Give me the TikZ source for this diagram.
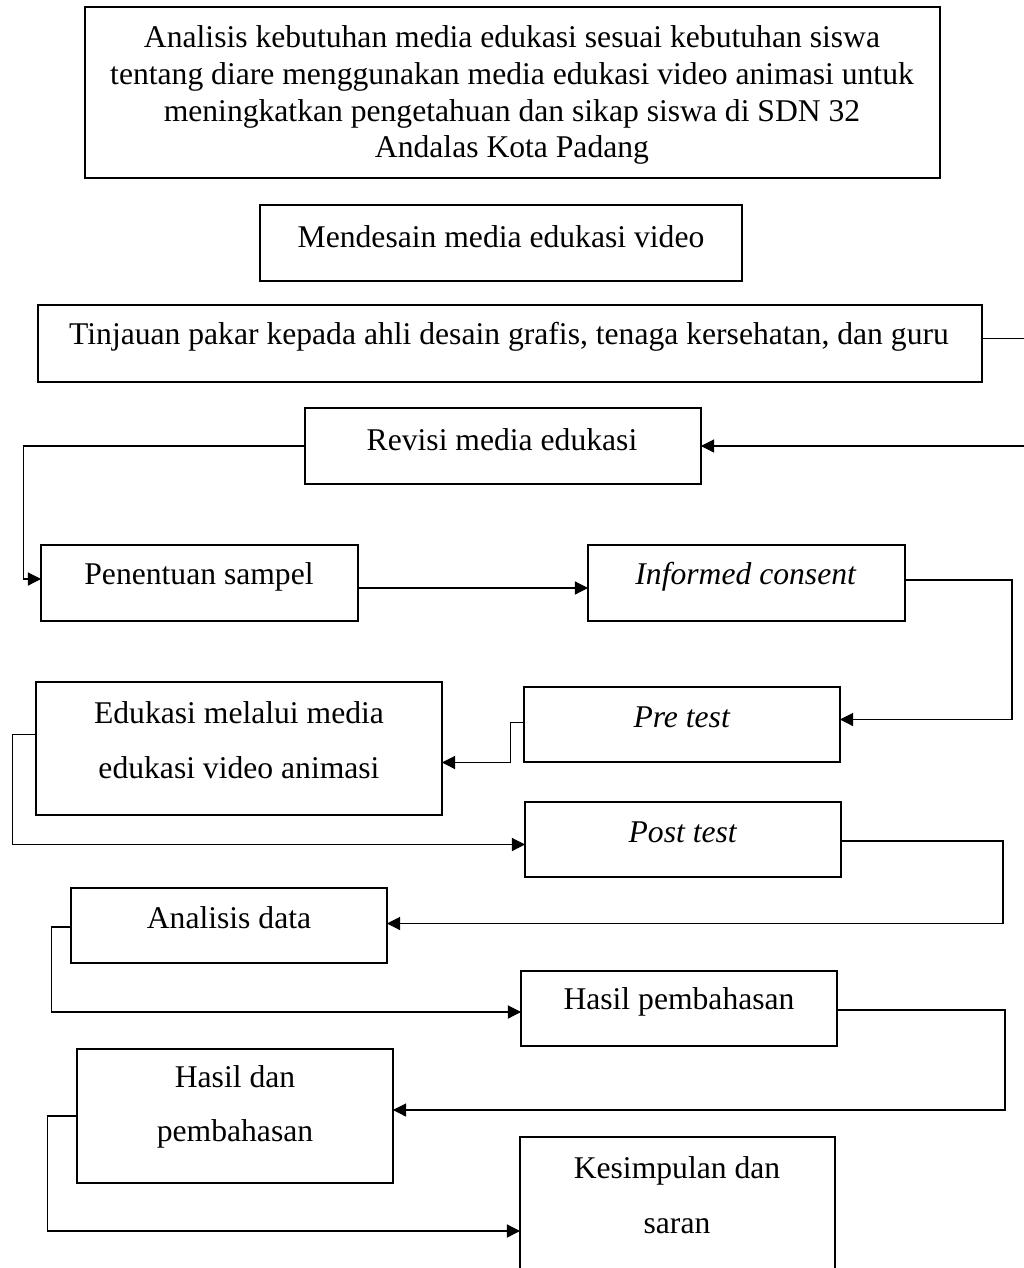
\documentclass[tikz,border=0pt]{standalone}
\usepackage{fontspec}
\setmainfont{Liberation Serif}
\usetikzlibrary{arrows.meta,calc}

\tikzset{
  boks/.style={draw, line width=1pt, inner sep=0pt, outer sep=0pt, minimum height=1.52cm},
  kecil/.style={boks, minimum width=6.32cm},
  teks/.style={font=\fontsize{18}{21}\selectfont, align=center, inner sep=0pt},
  panah/.style={line width=0.6pt, -{Triangle[length=7.5pt,width=7.5pt]}}
}

\begin{document}
\begin{tikzpicture}[x=0.02cm, y=-0.02cm]
    \useasboundingbox (0,0) rectangle (1024,1268);

    % Top boxes
    \node[boks, minimum width=17.1cm, minimum height=3.42cm] (analisis) at (512.5,92.5) {};
    \node[teks] at (512,95) {Analisis kebutuhan media edukasi sesuai kebutuhan siswa\\
      tentang diare menggunakan media edukasi video animasi untuk\\
      meningkatkan pengetahuan dan sikap siswa di SDN 32\\
      Andalas Kota Padang};
    \node[boks, minimum width=9.64cm] (desain) at (501,243) {};
    \node[teks] at (501,237) {Mendesain media edukasi video};
    \node[boks, minimum width=18.88cm, minimum height=1.54cm] (tinjauan) at (510,343.5) {};
    \node[teks] at (509,337) {Tinjauan pakar kepada ahli desain grafis, tenaga kersehatan, dan guru};
    \node[boks, minimum width=7.92cm] (revisi) at (503,446) {};
    \node[teks] at (502,440) {Revisi media edukasi};

    % Left and right columns
    \node[boks, minimum width=6.34cm] (sampel) at (199.5,583) {};
    \node[teks] at (199,577) {Penentuan sampel};
    \node[boks, minimum width=6.34cm] (consent) at (746.5,583) {};
    \node[teks] at (746,577) {\textit{Informed consent}};
    \node[kecil, minimum height=1.5cm] (pretest) at (682,724.5) {};
    \node[teks] at (682,717) {\textit{Pre test}};
    \node[boks, minimum width=8.12cm, minimum height=2.66cm] (edukasi) at (239,748.5) {};
    \node[teks] at (239,740) {Edukasi melalui media\\[10pt] edukasi video animasi};
    \node[kecil, minimum height=1.5cm] (posttest) at (683,839.5) {};
    \node[teks] at (683,832) {\textit{Post test}};
    \node[kecil, minimum height=1.5cm] (data) at (229,925.5) {};
    \node[teks] at (229,918) {Analisis data};
    \node[kecil, minimum height=1.5cm] (hasilbhs) at (679,1008.5) {};
    \node[teks] at (679,1002) {Hasil pembahasan};
    \node[kecil, minimum height=2.68cm] (hasil) at (235,1116) {};
    \node[teks] at (235,1107) {Hasil dan\\[10pt] pembahasan};
    \node[kecil, minimum width=6.3cm, minimum height=3.4cm] (kesimpulan) at (677.5,1222) {};
    \node[teks] at (677,1195) {Kesimpulan dan\\[10pt] saran};

    % Connectors
    \draw[panah] ($(tinjauan.east)+(0,-5)$) -- ++(58,0) |- (revisi.east);
    \draw[panah] (revisi.west) -- ++(-282,0) |- ($(sampel.west)+(0,-4)$);
    \draw[panah] ($(sampel.east)+(0,5)$) -- ($(consent.west)+(0,5)$);
    \draw[panah] ($(consent.east)+(0,-3)$) -- ++(107,0) |- ($(pretest.east)+(0,-5)$);
    \draw[panah] ($(pretest.west)+(0,-2)$) -- ++(-14,0) |- ($(edukasi.east)+(0,14)$);
    \draw[panah] ($(edukasi.west)+(0,-14)$) -- ++(-24,0) |- ($(posttest.west)+(0,5)$);
    \draw[panah] ($(posttest.east)+(0,1.5)$) -- ++(162,0) |- ($(data.east)+(0,-2)$);
    \draw[panah] ($(data.west)+(0,1.5)$) -- ++(-20,0) |- ($(hasilbhs.west)+(0,3.5)$);
    \draw[panah] ($(hasilbhs.east)+(0,1.5)$) -- ++(168,0) |- ($(hasil.east)+(0,-6)$);
    \draw[panah] (hasil.west) -- ++(-30,0) |- ($(kesimpulan.west)+(0,9)$);
\end{tikzpicture}
\end{document}
